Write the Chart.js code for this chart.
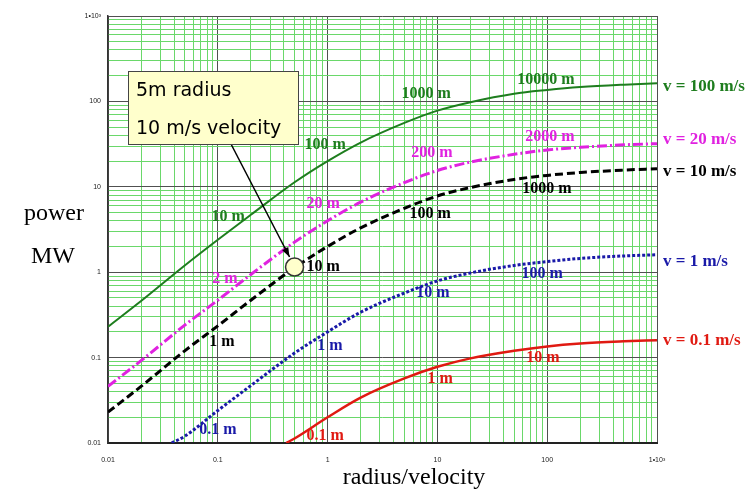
<!DOCTYPE html>
<html>
<head>
<meta charset="utf-8">
<script src="https://cdn.jsdelivr.net/npm/chart.js@4"></script>
<style>
  html, body { margin: 0; padding: 0; background: #fff; }
  #powerChart { display: block; }
</style>
</head>
<body>
<canvas id="powerChart" width="756" height="496"></canvas>
<script>
// radius/velocity sample points and power (MW) for each flow velocity
const ratioX = [0.01, 0.02, 0.05, 0.1, 0.2, 0.5, 1, 2, 5, 10, 20, 50, 100, 200, 500, 1000];
const powerV100 = [0.23, 0.46, 1.2, 2.4, 4.7, 11.3, 20, 33, 56, 78, 98, 123, 136, 147, 157, 163];
const powerV20 = [0.046, 0.092, 0.24, 0.47, 0.94, 2.25, 4.0, 6.6, 11.2, 15.5, 19.5, 24, 27, 29, 31, 32];
const powerV10 = [0.023, 0.046, 0.12, 0.235, 0.47, 1.13, 2.0, 3.3, 5.6, 7.8, 9.8, 12.2, 13.6, 14.7, 15.7, 16.3];
const ratioV1 = [0.038, 0.05, 0.1, 0.2, 0.5, 1, 2, 5, 10, 20, 50, 100, 200, 500, 1000];
const powerV1 = [0.01, 0.012, 0.024, 0.047, 0.113, 0.2, 0.34, 0.57, 0.79, 0.98, 1.2, 1.33, 1.45, 1.55, 1.6];
const ratioV01 = [0.42, 0.5, 1, 2, 5, 10, 20, 50, 100, 200, 500, 1000];
const powerV01 = [0.01, 0.0113, 0.02, 0.034, 0.057, 0.078, 0.098, 0.12, 0.135, 0.146, 0.155, 0.16];

// marked design point: 5 m radius at 10 m/s
const markRatio = [0.5];
const markPower = [1.15];

const seriesNames = ['v = 100 m/s', 'v = 20 m/s', 'v = 10 m/s', 'v = 1 m/s', 'v = 0.1 m/s'];
const decadeLabels = ['0.01', '0.1', '1', '10', '100', '1•10³'];

// radius annotations along each curve: [text, x, y]
const curveNotes = [
  [['10 m', 0.124, 4.4], ['100 m', 0.95, 30.7], ['1000 m', 7.9, 121], ['10000 m', 97.5, 177]],
  [['2 m', 0.116, 0.83], ['20 m', 0.91, 6.25], ['200 m', 8.9, 24.7], ['2000 m', 106, 38]],
  [['1 m', 0.109, 0.151], ['10 m', 0.91, 1.14], ['100 m', 8.6, 4.78], ['1000 m', 99.6, 9.4]],
  [['0.1 m', 0.1, 0.0141], ['1 m', 1.05, 0.136], ['10 m', 9.1, 0.568], ['100 m', 90, 0.95]],
  [['0.1 m', 0.95, 0.012], ['1 m', 10.6, 0.057], ['10 m', 91.6, 0.098]]
];

const colors = ['#1e7d1e', '#e022e0', '#000000', '#1a1aa8', '#e01a12'];

const toPoints = (xs, ys) => xs.map((x, i) => ({ x: x, y: ys[i] }));

function logTicks(scale) {
  const ticks = [];
  for (let e = -2; e <= 3; e++) {
    for (let s = 1; s <= 9; s++) {
      const v = +(s * Math.pow(10, e)).toPrecision(3);
      if (v > 1000) break;
      ticks.push({ value: v, major: s === 1 });
    }
  }
  scale.ticks = ticks;
}

const isDecade = v => Math.abs(Math.log10(v) - Math.round(Math.log10(v))) < 1e-6;
const decadeText = v => decadeLabels[Math.round(Math.log10(v)) + 2];

const gridColor = ctx => (ctx.tick && isDecade(ctx.tick.value)) ? '#505050' : '#6ad86a';

const annotations = {
  id: 'annotations',
  afterDatasetsDraw(chart) {
    const c = chart.ctx;
    const xs = chart.scales.x, ys = chart.scales.y;
    c.save();

    // radius labels on the curves
    c.font = 'bold 16px "Liberation Serif"';
    c.textAlign = 'center';
    c.textBaseline = 'middle';
    curveNotes.forEach((notes, i) => {
      c.fillStyle = colors[i];
      notes.forEach(n => c.fillText(n[0], xs.getPixelForValue(n[1]), ys.getPixelForValue(n[2])));
    });

    // velocity labels at the right end of each curve
    const nudge = [3, -4, 3, 7, 0];
    c.font = 'bold 17px "Liberation Serif"';
    c.textAlign = 'left';
    seriesNames.forEach((name, i) => {
      const pts = chart.getDatasetMeta(i + 1).data;
      const last = pts[pts.length - 1];
      c.fillStyle = colors[i];
      c.fillText(name, chart.chartArea.right + 6, last.y + nudge[i]);
    });

    // axis titles
    c.fillStyle = '#000';
    c.font = '24px "Liberation Serif"';
    c.textAlign = 'center';
    c.textBaseline = 'alphabetic';
    c.fillText('power', 54, 220);
    c.fillText('MW', 53, 263);
    c.fillText('radius/velocity', 414, 484);

    // callout box with arrow to the design point
    const mark = chart.getDatasetMeta(0).data[0];
    const bx = 128, by = 71, bw = 170, bh = 73;
    c.strokeStyle = '#000';
    c.lineWidth = 1.5;
    c.beginPath();
    c.moveTo(231, by + bh);
    c.lineTo(mark.x - 5, mark.y - 10);
    c.stroke();
    const ang = Math.atan2(mark.y - 10 - (by + bh), mark.x - 5 - 231);
    c.fillStyle = '#000';
    c.beginPath();
    c.moveTo(mark.x - 5, mark.y - 10);
    c.lineTo(mark.x - 5 - 10 * Math.cos(ang - 0.35), mark.y - 10 - 10 * Math.sin(ang - 0.35));
    c.lineTo(mark.x - 5 - 10 * Math.cos(ang + 0.35), mark.y - 10 - 10 * Math.sin(ang + 0.35));
    c.closePath();
    c.fill();

    c.fillStyle = '#ffffcc';
    c.fillRect(bx, by, bw, bh);
    c.strokeStyle = '#444';
    c.lineWidth = 1;
    c.strokeRect(bx + 0.5, by + 0.5, bw, bh);
    c.fillStyle = '#000';
    c.font = '19px "DejaVu Sans"';
    c.textAlign = 'left';
    c.fillText('5m radius', 136, 96);
    c.fillText('10 m/s velocity', 136, 134);
    c.restore();
  }
};

const curveData = [
  toPoints(ratioX, powerV100),
  toPoints(ratioX, powerV20),
  toPoints(ratioX, powerV10),
  toPoints(ratioV1, powerV1),
  toPoints(ratioV01, powerV01)
];
const dashes = [[], [10, 3, 2, 3], [8, 4], [3, 2], []];
const widths = [2, 3, 3, 3, 2.5];

new Chart(document.getElementById('powerChart'), {
  type: 'line',
  data: {
    datasets: [{
      label: 'design point',
      data: toPoints(markRatio, markPower),
      showLine: false,
      pointRadius: 9,
      pointBackgroundColor: '#ffffcc',
      pointBorderColor: '#333',
      pointBorderWidth: 1.5,
      order: 0
    }].concat(seriesNames.map((name, i) => ({
      label: name,
      data: curveData[i],
      borderColor: colors[i],
      borderWidth: widths[i],
      borderDash: dashes[i],
      pointRadius: 0,
      cubicInterpolationMode: 'monotone',
      order: 1
    })))
  },
  options: {
    responsive: false,
    animation: false,
    layout: { padding: { top: 16, right: 99, left: 0, bottom: 0 } },
    plugins: {
      legend: { display: false },
      tooltip: { enabled: false }
    },
    scales: {
      x: {
        type: 'logarithmic',
        min: 0.01,
        max: 1000,
        afterBuildTicks: logTicks,
        afterFit(scale) { scale.height = 53; },
        grid: { color: gridColor, lineWidth: 1, drawTicks: false },
        border: { color: '#222', width: 2 },
        ticks: {
          autoSkip: false,
          maxRotation: 0,
          padding: 13,
          color: '#222',
          font: { family: 'Liberation Sans', size: 7 },
          callback: v => isDecade(v) ? decadeText(v) : ''
        }
      },
      y: {
        type: 'logarithmic',
        min: 0.01,
        max: 1000,
        afterBuildTicks: logTicks,
        afterFit(scale) { scale.width = 108; },
        grid: { color: gridColor, lineWidth: 1, drawTicks: false },
        border: { color: '#333', width: 1.5 },
        ticks: {
          autoSkip: false,
          padding: 7,
          color: '#222',
          font: { family: 'Liberation Sans', size: 7 },
          callback: v => isDecade(v) ? decadeText(v) : ''
        }
      }
    }
  },
  plugins: [annotations]
});
</script>
</body>
</html>
